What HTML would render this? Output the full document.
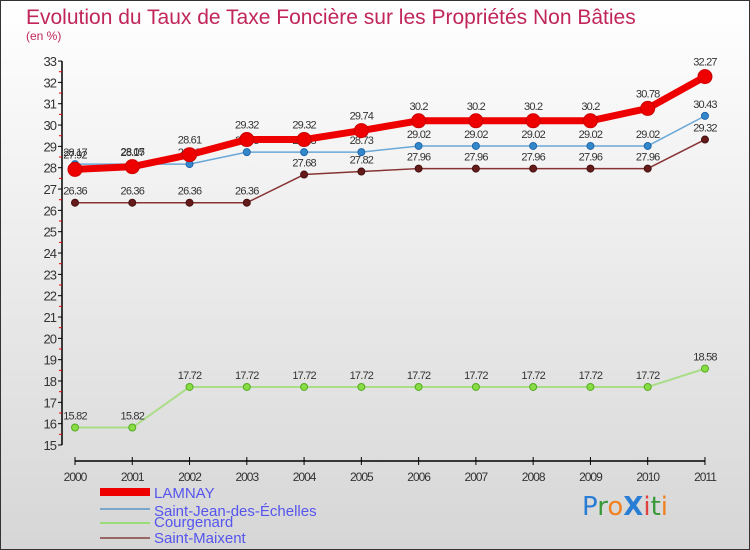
<!DOCTYPE html>
<html><head><meta charset="utf-8"><style>
body{margin:0}
#c{width:750px;height:550px;position:relative;background:linear-gradient(#ffffff,#d6d6d6);box-sizing:border-box;border:1px solid #333;font-family:"Liberation Sans",sans-serif;overflow:hidden}
</style></head><body>
<div id="c">
<svg id="s" width="750" height="550" style="position:absolute;left:-1px;top:-1px" font-family="Liberation Sans, sans-serif">
<text x="26" y="24" font-size="21" fill="#c0265a">Evolution du Taux de Taxe Foncière sur les Propriétés Non Bâties</text>
<text x="26" y="40" font-size="12" fill="#c0265a">(en %)</text>
<g id="axes"></g><g id="series"></g>
<g>
<rect x="100" y="488" width="50" height="8" fill="#e00"/>
<text x="154" y="498" font-size="15" fill="#5555ee">LAMNAY</text>
<line x1="100" y1="509" x2="150" y2="509" stroke="#7aa8cc" stroke-width="2"/>
<text x="154" y="516" font-size="15" fill="#5555ee">Saint-Jean-des-Échelles</text>
<line x1="100" y1="523" x2="150" y2="523" stroke="#99dd77" stroke-width="2"/>
<text x="154" y="527" font-size="15" fill="#5555ee">Courgenard</text>
<line x1="100" y1="538" x2="150" y2="538" stroke="#996666" stroke-width="2"/>
<text x="154" y="543" font-size="15" fill="#5555ee">Saint-Maixent</text>
</g>
<g font-size="26" font-family="DejaVu Sans, sans-serif">
<text x="582" y="515"><tspan fill="#2a7dd4">P</tspan><tspan fill="#3a9a3a">r</tspan><tspan fill="#f08020">o</tspan><tspan fill="#2a7dd4" font-weight="bold">X</tspan><tspan fill="#e04040">i</tspan><tspan fill="#3a9a3a">t</tspan><tspan fill="#f08020">i</tspan></text>
</g>
</svg>
</div>
<script>
const years=[2000,2001,2002,2003,2004,2005,2006,2007,2008,2009,2010,2011];
const lamnay=[27.92,28.05,28.61,29.32,29.32,29.74,30.2,30.2,30.2,30.2,30.78,32.27];
const stJean=[28.17,28.17,28.17,28.73,28.73,28.73,29.02,29.02,29.02,29.02,29.02,30.43];
const courgenard=[15.82,15.82,17.72,17.72,17.72,17.72,17.72,17.72,17.72,17.72,17.72,18.58];
const stMaixent=[26.36,26.36,26.36,26.36,27.68,27.82,27.96,27.96,27.96,27.96,27.96,29.32];
const yTicks=[15,16,17,18,19,20,21,22,23,24,25,26,27,28,29,30,31,32,33];
const NS="http://www.w3.org/2000/svg";
const X=i=>75+i*57.27, Y=v=>445-(v-15)*21.33;
function mk(t,a,p){const e=document.createElementNS(NS,t);for(const k in a)e.setAttribute(k,a[k]);p.appendChild(e);return e;}
const ax=document.getElementById('axes'),sg=document.getElementById('series');
const ya=mk('line',{x1:62,y1:Y(33),x2:62,y2:Y(15),stroke:'#000','stroke-width':1.5},ax);


const xa=mk('line',{x1:X(0),y1:461,x2:X(11),y2:461,stroke:'#000','stroke-width':1.5},ax);


yTicks.forEach(v=>{
 mk('line',{x1:58,x2:62,y1:Y(v),y2:Y(v),stroke:'#000'},ax);
 if(v<33)mk('line',{x1:59,x2:62,y1:Y(v+0.5),y2:Y(v+0.5),stroke:'#e00'},ax);
 const t=mk('text',{x:56,y:Y(v)+5,'font-size':13,'text-anchor':'end',fill:'#333','letter-spacing':'-1'},ax);t.textContent=v;
 
 
});
years.forEach((y,i)=>{
 mk('line',{x1:X(i),x2:X(i),y1:457,y2:465,stroke:'#000'},ax);
 const t=mk('text',{x:X(i),y:481,'font-size':12,'text-anchor':'middle',fill:'#333','letter-spacing':'-1'},ax);t.textContent=y;
 
 
});
function series(vals,name,col,w,r,dot,dotStroke){
 const g=mk('g',{},sg);
 
 
 mk('polyline',{points:vals.map((v,i)=>X(i)+','+Y(v)).join(' '),fill:'none',stroke:col,'stroke-width':w,'stroke-linejoin':'round'},g);
 vals.forEach((v,i)=>{
  const c=mk('circle',{cx:X(i),cy:Y(v),r:r,fill:dot,stroke:dotStroke},g);
  
  
  const t=mk('text',{x:X(i),y:Y(v)-8-(r>5?3:0),'font-size':11,'text-anchor':'middle',fill:'#333','letter-spacing':'-0.8'},g);t.textContent=v;
  
  
 });
}
series(courgenard,'courgenard','#aadd88',2,3.5,'#88dd44','#55aa22');
series(stMaixent,'saint-maixent','#883333',1.5,3.5,'#661a1a','#441111');
series(stJean,'saint-jean','#6aa8d8',1.5,3.5,'#3388cc','#2266aa');
series(lamnay,'lamnay','#ee0000',7,7,'#ee0000','#cc0000');
</script>
</body></html>
